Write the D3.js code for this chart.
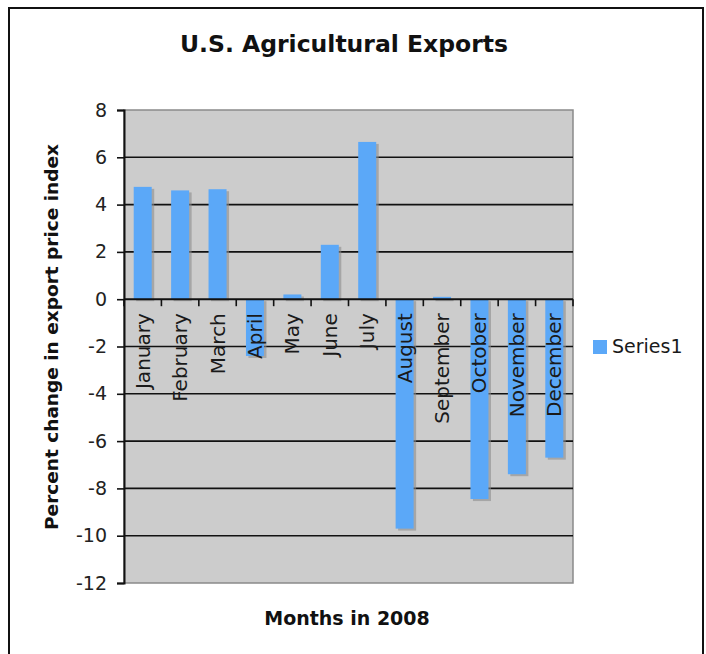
<!DOCTYPE html>
<html>
<head>
<meta charset="utf-8">
<script src="https://cdn.jsdelivr.net/npm/d3@7"></script>
<style>
  html, body { margin: 0; padding: 0; background: #fff; }
  svg { display: block; font-family: "DejaVu Sans", Verdana, sans-serif; }
</style>
</head>
<body>
<div id="chart"></div>
<script>
const months = ['January','February','March','April','May','June','July','August','September','October','November','December'];
const series1 = [4.75, 4.6, 4.65, -2.4, 0.2, 2.3, 6.65, -9.7, 0.1, -8.45, -7.4, -6.7];
const yTicks = [8, 6, 4, 2, 0, -2, -4, -6, -8, -10, -12];
const seriesName = 'Series1';

const width = 706, height = 654;
const plot = { left: 124, right: 573, top: 110, bottom: 583 };
const barColor = '#5ba8f8';

const svg = d3.select('#chart').append('svg').attr('width', width).attr('height', height);

// outer frame
svg.append('rect').attr('x', 9).attr('y', 8).attr('width', 694).attr('height', 650)
  .attr('fill', '#fff').attr('stroke', '#111').attr('stroke-width', 2);

const x = d3.scaleBand().domain(months).range([plot.left, plot.right]).paddingInner(0).paddingOuter(0);
const y = d3.scaleLinear().domain([-12, 8]).range([plot.bottom, plot.top]);
const barW = 18;

// plot background
svg.append('rect').attr('x', plot.left).attr('y', plot.top)
  .attr('width', plot.right - plot.left).attr('height', plot.bottom - plot.top)
  .attr('fill', '#cccccc').attr('stroke', '#8a8a8a').attr('stroke-width', 1.5);

// gridlines
svg.append('g').selectAll('line').data(yTicks.filter(d => d !== 8 && d !== -12 && d !== 0)).enter().append('line')
  .attr('x1', plot.left).attr('x2', plot.right)
  .attr('y1', d => y(d)).attr('y2', d => y(d))
  .attr('stroke', '#111').attr('stroke-width', 1.6);

// bar shadows then bars
const bars = svg.append('g');
bars.selectAll('rect.shadow').data(series1).enter().append('rect').attr('class', 'shadow')
  .attr('x', (d, i) => x(months[i]) + x.bandwidth() / 2 - barW / 2 + 2.5)
  .attr('y', d => Math.min(y(d), y(0)) + 2)
  .attr('width', barW).attr('height', d => Math.abs(y(d) - y(0)))
  .attr('fill', '#8c8c8c').attr('opacity', 0.6);
bars.selectAll('rect.bar').data(series1).enter().append('rect').attr('class', 'bar')
  .attr('x', (d, i) => x(months[i]) + x.bandwidth() / 2 - barW / 2)
  .attr('y', d => Math.min(y(d), y(0)))
  .attr('width', barW).attr('height', d => Math.abs(y(d) - y(0)))
  .attr('fill', barColor);

// y axis (plain hyphen for negatives)
const yAxis = svg.append('g').attr('transform', `translate(${plot.left},0)`)
  .call(d3.axisLeft(y).tickValues(yTicks).tickSize(7).tickPadding(10).tickFormat(d => String(d)));
yAxis.select('.domain').attr('stroke', '#111').attr('stroke-width', 2);
yAxis.selectAll('.tick line').attr('stroke', '#111').attr('stroke-width', 1.6);
yAxis.selectAll('.tick text').attr('font-size', 19).attr('fill', '#222')
  .attr('font-family', '"DejaVu Sans", Verdana, sans-serif');

// zero axis with ticks at band edges
const zero = svg.append('g');
zero.append('line').attr('x1', plot.left).attr('x2', plot.right)
  .attr('y1', y(0)).attr('y2', y(0)).attr('stroke', '#111').attr('stroke-width', 2);
zero.selectAll('line.t').data(months.concat(['end'])).enter().append('line').attr('class', 't')
  .attr('x1', (d, i) => plot.left + i * x.bandwidth()).attr('x2', (d, i) => plot.left + i * x.bandwidth())
  .attr('y1', y(0)).attr('y2', y(0) + 7).attr('stroke', '#111').attr('stroke-width', 1.6);

// category labels
svg.append('g').selectAll('text').data(months).enter().append('text')
  .attr('transform', d => `translate(${x(d) + x.bandwidth() / 2 + 7},${y(0) + 14}) rotate(-90)`)
  .attr('text-anchor', 'end').attr('font-size', 20).attr('fill', '#1a1a1a')
  .text(d => d);

// titles
svg.append('text').attr('x', 344).attr('y', 52).attr('text-anchor', 'middle')
  .attr('font-size', 23.5).attr('font-weight', 'bold').attr('fill', '#111')
  .text('U.S. Agricultural Exports');
svg.append('text').attr('x', 347).attr('y', 625).attr('text-anchor', 'middle')
  .attr('font-size', 19).attr('font-weight', 'bold').attr('fill', '#111')
  .text('Months in 2008');
svg.append('text').attr('transform', `translate(58,337) rotate(-90)`).attr('text-anchor', 'middle')
  .attr('font-size', 18.5).attr('font-weight', 'bold').attr('fill', '#111')
  .text('Percent change in export price index');

// legend
const legend = svg.append('g').attr('transform', 'translate(593,340)');
legend.append('rect').attr('width', 14).attr('height', 14).attr('fill', barColor);
legend.append('text').attr('x', 19).attr('y', 13).attr('font-size', 19).attr('fill', '#1a1a1a').text(seriesName);
</script>
</body>
</html>
